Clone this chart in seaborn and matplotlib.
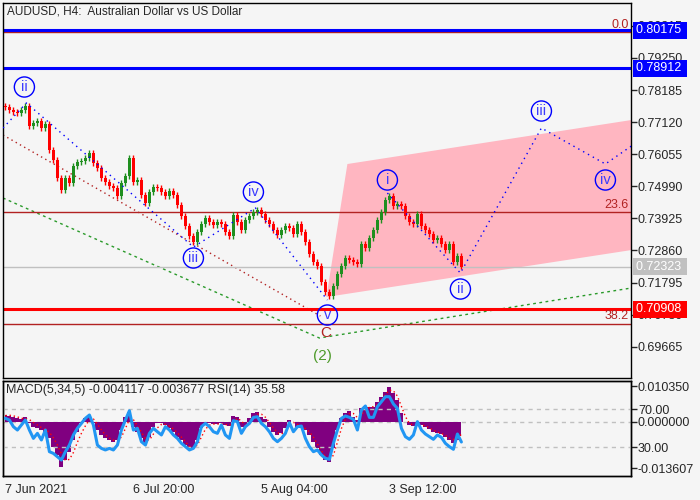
import matplotlib
matplotlib.use("Agg")
import matplotlib.pyplot as plt
import seaborn as sns
import pandas as pd
import numpy as np

sns.set_style("white")
plt.rcParams['font.family'] = ['Liberation Sans', 'DejaVu Sans']

# H4 closes, one candle per ~4 screen bars
closes = [
    0.77621, 0.77521, 0.77455, 0.77421, 0.77521, 0.77654, 0.76990, 0.77089, 0.77156, 0.76923,
    0.77056, 0.76193, 0.75861, 0.75263, 0.74865, 0.75263, 0.75097, 0.75662, 0.75795, 0.75828,
    0.75927, 0.76093, 0.75761, 0.75595, 0.75263, 0.75131, 0.74998, 0.74931, 0.74666, 0.75097,
    0.75330, 0.75927, 0.75131, 0.75197, 0.74699, 0.74433, 0.74799, 0.74965, 0.74931, 0.74799,
    0.74666, 0.74832, 0.74699, 0.74367, 0.74002, 0.73670, 0.73338, 0.73139, 0.73471, 0.73736,
    0.73935, 0.73803, 0.73703, 0.73803, 0.73736, 0.73471, 0.73338, 0.74035, 0.73803, 0.73537,
    0.73869, 0.74002, 0.74135, 0.74201, 0.74068, 0.73869, 0.73736, 0.73537, 0.73371, 0.73537,
    0.73670, 0.73603, 0.73404, 0.73736, 0.73471, 0.73139, 0.72740, 0.72475, 0.72342, 0.71811,
    0.71479, 0.71346, 0.71678, 0.72076, 0.72342, 0.72607, 0.72541, 0.72475, 0.72408, 0.73072,
    0.72939, 0.73271, 0.73537, 0.73869, 0.74135, 0.74533, 0.74666, 0.74334, 0.74400, 0.74334,
    0.74002, 0.73803, 0.73736, 0.74068, 0.73670, 0.73537, 0.73404, 0.73205, 0.73271, 0.73072,
    0.72873, 0.73072, 0.72475, 0.72674, 0.72323,
]

macd = [
    0.00195, 0.00166, 0.00146, 0.00097, 0.00068, 0.00127, -0.00049, -0.00146, -0.00195, -0.00244,
    -0.00292, -0.00487, -0.00731, -0.00974, -0.01310, -0.01120, -0.00877, -0.00536, -0.00292, -0.00049,
    0.00097, 0.00195, -0.00049, -0.00244, -0.00390, -0.00487, -0.00536, -0.00584, -0.00536, -0.00244,
    0.00127, 0.00292, -0.00146, -0.00292, -0.00487, -0.00682, -0.00438, -0.00146, -0.00049, -0.00049,
    -0.00097, -0.00195, -0.00292, -0.00438, -0.00536, -0.00682, -0.00828, -0.00779, -0.00536, -0.00195,
    -0.00068, -0.00049, -0.00068, -0.00078, -0.00049, -0.00097, -0.00127, 0.00166, 0.00146, -0.00146,
    -0.00146, 0.00097, 0.00244, 0.00292, 0.00146, 0.00068, -0.00146, -0.00292, -0.00390, -0.00341,
    -0.00195, 0.00049, 0.00000, -0.00146, -0.00195, -0.00244, -0.00390, -0.00584, -0.00779, -0.00974,
    -0.01120, -0.01169, -0.00779, -0.00244, 0.00097, 0.00244, 0.00321, 0.00146, 0.00049, 0.00390,
    0.00458, 0.00438, 0.00438, 0.00584, 0.00731, 0.00877, 0.01000, 0.00828, 0.00633, 0.00244,
    0.00000, -0.00097, -0.00127, -0.00068, -0.00097, -0.00166, -0.00224, -0.00292, -0.00321, -0.00360,
    -0.00438, -0.00536, -0.00633, -0.00536, -0.004117,
]

signal = [
    0.0018, 0.0019, 0.0017, 0.0014, 0.0010, 0.0009, 0.0006, -0.0002, -0.0010, -0.0017,
    -0.0023, -0.0031, -0.0047, -0.0068, -0.0094, -0.0113, -0.0110, -0.0090, -0.0060, -0.0034,
    -0.0012, 0.0006, 0.0008, -0.0007, -0.0024, -0.0038, -0.0048, -0.0054, -0.0055, -0.0045,
    -0.0020, 0.0007, 0.0006, -0.0012, -0.0030, -0.0050, -0.0054, -0.0036, -0.0018, -0.0008,
    -0.0008, -0.0013, -0.0021, -0.0032, -0.0045, -0.0058, -0.0072, -0.0078, -0.0068, -0.0045,
    -0.0022, -0.0010, -0.0007, -0.0007, -0.0006, -0.0008, -0.0011, -0.0002, 0.0010, 0.0002,
    -0.0010, -0.0005, 0.0010, 0.0022, 0.0022, 0.0013, -0.0002, -0.0018, -0.0032, -0.0036,
    -0.0028, -0.0010, -0.0002, -0.0008, -0.0015, -0.0020, -0.0030, -0.0045, -0.0065, -0.0085,
    -0.0102, -0.0112, -0.0098, -0.0060, -0.0020, 0.0008, 0.0024, 0.0024, 0.0012, 0.0020,
    0.0035, 0.0042, 0.0044, 0.0050, 0.0064, 0.0080, 0.0092, 0.0090, 0.0075, 0.0045,
    0.0015, -0.0005, -0.0010, -0.0010, -0.0009, -0.0012, -0.0018, -0.0025, -0.0030, -0.0034,
    -0.0040, -0.0048, -0.0052, -0.0048, -0.003677,
]

rsi = [
    60.5, 58.7, 51.7, 48.2, 53.5, 58.7, 48.2, 39.4, 44.7, 37.7,
    48.2, 25.4, 23.6, 20.1, 16.6, 25.4, 32.4, 43.0, 50.0, 55.2,
    60.5, 64.0, 53.5, 32.4, 28.9, 27.2, 28.9, 27.2, 32.4, 48.2,
    58.7, 68.5, 48.2, 50.0, 35.9, 32.4, 44.7, 50.0, 46.4, 43.0,
    51.7, 48.2, 43.0, 39.4, 34.2, 30.7, 27.2, 28.9, 35.9, 51.7,
    55.2, 51.7, 46.4, 44.7, 53.5, 43.0, 39.4, 58.0, 57.0, 44.7,
    51.7, 55.2, 61.5, 62.2, 55.2, 51.7, 46.4, 39.4, 35.9, 39.4,
    44.7, 55.9, 46.4, 51.7, 52.4, 39.4, 30.7, 25.4, 27.2, 21.9,
    18.4, 17.3, 34.2, 48.2, 60.5, 63.0, 61.5, 59.4, 48.2, 69.3,
    73.5, 61.5, 61.5, 72.8, 78.0, 83.3, 83.3, 75.6, 71.0, 50.0,
    41.2, 38.4, 43.0, 57.0, 48.2, 44.0, 41.2, 38.4, 43.0, 40.5,
    34.2, 30.7, 27.9, 44.0, 35.58,
]

tick_labels = ["7 Jun 2021", "6 Jul 20:00", "5 Aug 04:00", "3 Sep 12:00"]
tick_candles = [0, 32, 64, 96]

price_ticks = [0.69665, 0.70730, 0.71795, 0.72860, 0.73925, 0.74990,
               0.76055, 0.77120, 0.78185, 0.79250, 0.80315]

# support / resistance levels
level_prices = [0.80175, 0.78912, 0.70908]
level_colors = ['#0000ff', '#0000ff', '#ff0000']

fib_names = ["0.0", "23.6", "38.2"]
fib_prices = [0.80098, 0.74126, 0.70430]

# elliott wave paths
wave1_x = [-0.6, 5.25, 47, 62.5, 80.5]
wave1_p = [0.76924, 0.77754, 0.72974, 0.74269, 0.71215]
wave2_x = [95.5, 113.75, 134, 150, 156.5]
wave2_p = [0.74766, 0.72111, 0.76924, 0.75729, 0.76326]
brown_x = [-0.6, 78.75]
brown_p = [0.76692, 0.70684]
green_x = [-0.6, 78.5, 156.5]
green_p = [0.74601, 0.69954, 0.71614]
channel_x = [80.25, 85.5, 156.5, 156.5]
channel_p = [0.71315, 0.75729, 0.77189, 0.72874]

wave_labels = ["ii", "iii", "iv", "v", "i", "ii", "iii", "iv"]
label_x = [4.75, 47, 62, 80.5, 95.5, 113.75, 134, 150]
label_p = [0.78285, 0.72609, 0.74800, 0.70717, 0.75198, 0.71580, 0.77488, 0.75198]

bg = '#f5f5f5'
brown = '#b22222'
fs = 9

fig = plt.figure(figsize=(7, 5), dpi=100, facecolor=bg)
ax = fig.add_axes([3 / 700, 1 - 378 / 500, 628 / 700, 375 / 500])
ax2 = fig.add_axes([3 / 700, 1 - 476 / 500, 628 / 700, 95 / 500])
ax3 = ax2.twinx()

for a in (ax, ax2):
    a.set_facecolor(bg)
for a in (ax, ax2, ax3):
    for s in a.spines.values():
        s.set_color('black')
        s.set_linewidth(1)

# ---- main price panel ----
df = pd.DataFrame({'close': closes})
df['open'] = [closes[0] + 0.0004] + closes[:-1]
df['idx'] = np.arange(len(df))
df['up'] = df['close'] >= df['open']
df['top'] = df[['open', 'close']].max(axis=1)
df['bot'] = df[['open', 'close']].min(axis=1)
colors = np.where(df['up'], '#1f8f1f', '#ff0000')

ax.fill(channel_x, channel_p, color='#ffb6c1', lw=0, zorder=1)

ax.plot(brown_x, brown_p, color=brown, ls=(0, (1, 2.5)), lw=1, zorder=2)
ax.plot(green_x, green_p, color='#2a9a2a', ls=(0, (2, 2.5)), lw=1, zorder=2)

ax.axhline(closes[-1], color='#c0c0c0', lw=1, zorder=2)
for fp in fib_prices:
    ax.axhline(fp, color=brown, lw=1, zorder=2)
for lp, lc in zip(level_prices, level_colors):
    ax.axhline(lp, color=lc, lw=2.2, zorder=2.2)

wick = 0.0009
ax.vlines(df['idx'], df['bot'] - wick, df['top'] + wick, colors=colors, lw=1, zorder=3)
ax.bar(df['idx'], np.maximum(df['top'] - df['bot'], 0.0003), bottom=df['bot'],
       width=0.8, color=colors, lw=0, zorder=3)

sns.lineplot(x=wave1_x, y=wave1_p, ax=ax, color='#0000ff', lw=1, zorder=4,
             linestyle=(0, (1, 3)))
sns.lineplot(x=wave2_x, y=wave2_p, ax=ax, color='#0000ff', lw=1, zorder=4,
             linestyle=(0, (1, 3)))

ax.scatter(label_x, label_p, s=210, facecolors='none', edgecolors='#0000ff', lw=1, zorder=5)
for t, lx, lp in zip(wave_labels, label_x, label_p):
    ax.text(lx, lp, t, color='#3b3bff', fontsize=10.5, ha='center', va='center', zorder=6)
ax.text(80, 0.70120, "C", color=brown, fontsize=11, ha='center', va='center', zorder=6)
ax.text(79.25, 0.69357, "(2)", color='#4d9a2a', fontsize=11, ha='center', va='center', zorder=6)

ytr = ax.get_yaxis_transform()
for name, fp in zip(fib_names, fib_prices):
    ax.text(0.996, fp + 0.0004, name, transform=ytr, color=brown, fontsize=fs,
            ha='right', va='bottom', zorder=6)

box_prices = level_prices + [closes[-1]]
box_colors = level_colors + ['#c0c0c0']
for bp, bc in zip(box_prices, box_colors):
    ax.text(1.0075, bp, f"{bp:.5f} ", transform=ytr, color='white', fontsize=fs,
            ha='left', va='center', clip_on=False, zorder=10,
            bbox=dict(boxstyle='square,pad=0.2', fc=bc, ec='none'))

ax.text(0.007, 0.976, "AUDUSD, H4:  Australian Dollar vs US Dollar", transform=ax.transAxes,
        fontsize=8.5, ha='left', va='center', zorder=6)

ax.set_xlim(-0.6, 156.4)
ax.set_ylim(0.68627, 0.81073)
ax.set_xticks([])
ax.yaxis.tick_right()
ax.set_yticks(price_ticks)
ax.set_yticklabels([f"{p:.5f}" for p in price_ticks])
ax.tick_params(axis='y', direction='out', length=4, width=1, pad=1, labelsize=fs)
ax.set_xlabel("")
ax.set_ylabel("")

# ---- MACD / RSI panel ----
idx = np.arange(len(macd))
ax2.axhline(0, color='#c0c0c0', lw=1, ls=(0, (3, 3)), zorder=1)
ax2.fill_between(idx, 0, macd, step='mid', color='#800080', lw=0, zorder=2)
ax2.plot(idx, signal, color='#ff0000', lw=1, ls=(0, (1, 2)), zorder=3)
ax3.axhline(70, color='#c0c0c0', lw=1, ls=(0, (3, 3)), zorder=1)
ax3.axhline(30, color='#c0c0c0', lw=1, ls=(0, (3, 3)), zorder=1)
sns.lineplot(x=idx, y=rsi, ax=ax3, color='#2196f3', lw=2.2, zorder=4)

ax2.set_xlim(-0.6, 156.4)
ax2.set_ylim(-0.01586, 0.01189)
ax3.set_ylim(-0.2, 99.8)
ax2.yaxis.tick_right()
ax2.set_yticks([0.01035, 0.0, -0.013607])
ax2.set_yticklabels(["0.010350", "0.000000", "-0.013607"])
ax3.set_yticks([70, 30])
ax3.set_yticklabels(["70.00", "30.00"])
for a in (ax2, ax3):
    a.tick_params(axis='y', direction='out', length=4, width=1, pad=1, labelsize=fs)
    a.set_ylabel("")
ax2.set_xticks(tick_candles)
ax2.set_xticklabels(tick_labels, ha='left')
ax2.tick_params(axis='x', direction='out', length=4, width=1, pad=2, labelsize=fs)

ax2.text(0.004, 0.905, f"MACD(5,34,5) {macd[-1]:.6f} {signal[-1]:.6f} RSI(14) {rsi[-1]:.2f}",
         transform=ax2.transAxes, fontsize=fs, ha='left', va='center', zorder=6)

fig.savefig("out.png", dpi=100, facecolor=bg)
